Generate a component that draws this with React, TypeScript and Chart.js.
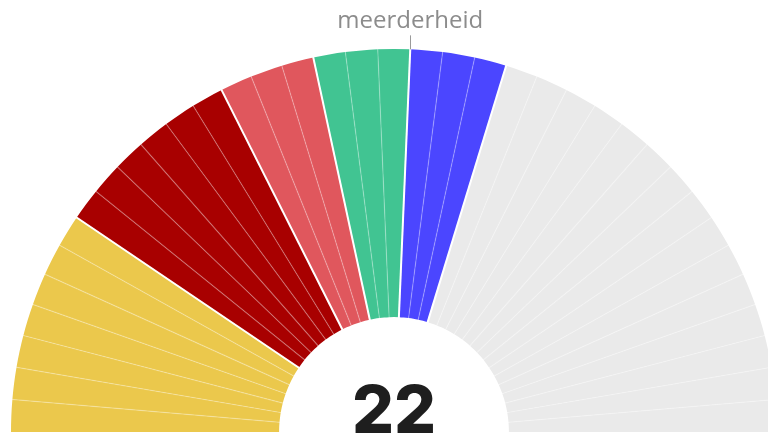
import React, { useEffect, useRef } from 'react';
import { Chart, registerables } from 'chart.js';

Chart.register(...registerables);

// Seats per party (left to right), the last group are the remaining seats
const partyLabels = ['Partij A', 'Partij B', 'Partij C', 'Partij D', 'Partij E', 'Overige zetels'];
const partySeats = [7, 6, 3, 3, 3, 15];
const partyColors = ['#EBC84C', '#A80000', '#E0575D', '#41C492', '#4B46FF', '#EAEAEA'];
const coalitionPartyCount = 5;
const majorityLabel = 'meerderheid';

const totalSeats = partySeats.reduce((a, b) => a + b, 0);
const majoritySeats = Math.floor(totalSeats / 2) + 1;
const coalitionSeats = partySeats.slice(0, coalitionPartyCount).reduce((a, b) => a + b, 0);

const seatLabels: string[] = [];
const seatValues: number[] = [];
const seatColors: string[] = [];
partySeats.forEach((n, p) => {
  for (let i = 0; i < n; i++) {
    seatLabels.push(partyLabels[p]);
    seatValues.push(1);
    seatColors.push(partyColors[p]);
  }
});

const overlayPlugin = {
  id: 'parliamentOverlay',
  afterDatasetsDraw(chart: any) {
    const meta = chart.getDatasetMeta(0);
    const arcs = meta.data;
    if (!arcs.length) return;
    const { x, y, innerRadius, outerRadius } = arcs[0].getProps(
      ['x', 'y', 'innerRadius', 'outerRadius'],
      true
    );
    const ctx = chart.ctx;
    ctx.save();
    const radial = (a: number) => {
      ctx.beginPath();
      ctx.moveTo(x + Math.cos(a) * (innerRadius - 1), y + Math.sin(a) * (innerRadius - 1));
      ctx.lineTo(x + Math.cos(a) * (outerRadius + 1), y + Math.sin(a) * (outerRadius + 1));
      ctx.stroke();
    };
    // seat separators
    ctx.strokeStyle = 'rgba(255,255,255,0.28)';
    ctx.lineWidth = 1.2;
    for (let i = 0; i < arcs.length - 1; i++) radial(arcs[i].endAngle);
    // party boundaries
    ctx.strokeStyle = '#ffffff';
    ctx.lineWidth = 2;
    let idx = 0;
    for (let p = 0; p < partySeats.length - 1; p++) {
      idx += partySeats[p];
      radial(arcs[idx - 1].endAngle);
    }
    // majority marker
    const ma = arcs[majoritySeats - 1].endAngle;
    const mx = x + Math.cos(ma) * outerRadius;
    const my = y + Math.sin(ma) * outerRadius;
    ctx.strokeStyle = '#9a9a9a';
    ctx.lineWidth = 1;
    ctx.beginPath();
    ctx.moveTo(Math.round(mx) + 0.5, my);
    ctx.lineTo(Math.round(mx) + 0.5, my - 14);
    ctx.stroke();
    ctx.fillStyle = '#8c8c8c';
    ctx.font = '400 24px "Open Sans", sans-serif';
    ctx.textAlign = 'center';
    ctx.textBaseline = 'alphabetic';
    ctx.fillText(majorityLabel, mx, my - 21);
    // coalition total
    ctx.fillStyle = '#1e1e1e';
    ctx.font = '800 66px Inter, sans-serif';
    ctx.fillText(String(coalitionSeats), x, y + 1);
    ctx.restore();
  },
};

export default function App() {
  const canvasRef = useRef<HTMLCanvasElement | null>(null);

  useEffect(() => {
    const canvas = canvasRef.current;
    if (!canvas) return;
    const chart = new Chart(canvas, {
      type: 'doughnut',
      data: {
        labels: seatLabels,
        datasets: [
          {
            data: seatValues,
            backgroundColor: seatColors,
            borderColor: seatColors,
            borderWidth: 0,
          },
        ],
      },
      options: {
        responsive: false,
        maintainAspectRatio: false,
        animation: false,
        events: [],
        rotation: -90,
        circumference: 180,
        cutout: '30%',
        layout: { padding: { left: 11, top: 49, right: 23, bottom: 3 } },
        plugins: {
          legend: { display: false },
          tooltip: { enabled: false },
        },
      },
      plugins: [overlayPlugin],
    });
    return () => chart.destroy();
  }, []);

  return (
    <div
      style={{
        position: 'absolute',
        left: 0,
        top: 0,
        width: 768,
        height: 435,
        overflow: 'hidden',
        background: '#ffffff',
      }}
    >
      <canvas ref={canvasRef} width={800} height={435} style={{ width: 800, height: 435, display: 'block' }} />
    </div>
  );
}
